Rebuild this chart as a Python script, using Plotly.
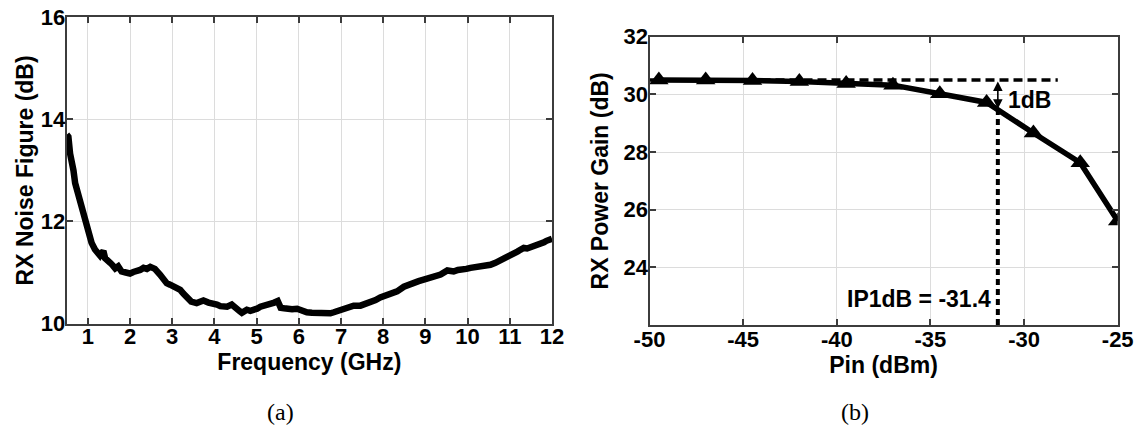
import plotly.graph_objects as go

# ---- (a) receiver noise figure vs frequency ----
freq_ghz = [
    0.50, 0.54, 0.58, 0.62, 0.66, 0.70, 0.74, 0.78, 0.82, 0.86,
    0.93, 1.01, 1.09, 1.17, 1.23, 1.29, 1.33, 1.37, 1.41, 1.47,
    1.53, 1.59, 1.65, 1.72, 1.80, 1.90, 2.00, 2.08, 2.16, 2.24,
    2.32, 2.40, 2.48, 2.59, 2.71, 2.80, 2.87, 2.95, 3.03, 3.11,
    3.19, 3.27, 3.35, 3.45, 3.58, 3.66, 3.74, 3.86, 3.98, 4.06,
    4.14, 4.22, 4.30, 4.41, 4.53, 4.60, 4.65, 4.71, 4.77, 4.85,
    4.93, 5.01, 5.09, 5.20, 5.32, 5.42, 5.50, 5.53, 5.57, 5.65,
    5.72, 5.84, 5.96, 6.08, 6.19, 6.31, 6.43, 6.55, 6.67, 6.75,
    6.83, 6.91, 7.06, 7.18, 7.30, 7.46, 7.58, 7.70, 7.82, 7.93,
    8.09, 8.25, 8.33, 8.49, 8.60, 8.72, 8.84, 8.96, 9.08, 9.20,
    9.36, 9.52, 9.67, 9.77, 9.87, 9.97, 10.07, 10.19, 10.31, 10.42,
    10.54, 10.66, 10.78, 10.90, 11.02, 11.10, 11.18, 11.26, 11.33, 11.41,
    11.49, 11.57, 11.65, 11.73, 11.81, 11.87, 11.93, 12.00,
]
noise_figure_db = [
    13.70, 13.66, 13.33, 13.20, 13.00, 12.75, 12.62, 12.52, 12.35, 12.23,
    11.97, 11.77, 11.58, 11.45, 11.40, 11.33, 11.38, 11.42, 11.28, 11.25,
    11.19, 11.14, 11.08, 11.12, 11.02, 11.00, 10.98, 11.01, 11.02, 11.05,
    11.09, 11.07, 11.11, 11.07, 10.96, 10.86, 10.79, 10.76, 10.73, 10.70,
    10.66, 10.58, 10.50, 10.43, 10.40, 10.43, 10.45, 10.41, 10.40, 10.37,
    10.34, 10.33, 10.33, 10.37, 10.31, 10.24, 10.21, 10.25, 10.27, 10.25,
    10.26, 10.29, 10.33, 10.35, 10.39, 10.41, 10.44, 10.36, 10.31, 10.30,
    10.29, 10.28, 10.29, 10.25, 10.22, 10.21, 10.20, 10.21, 10.19, 10.20,
    10.22, 10.24, 10.27, 10.30, 10.35, 10.35, 10.38, 10.41, 10.46, 10.51,
    10.56, 10.60, 10.63, 10.72, 10.76, 10.81, 10.83, 10.86, 10.89, 10.92,
    10.96, 11.04, 11.02, 11.05, 11.05, 11.07, 11.09, 11.10, 11.11, 11.13,
    11.15, 11.19, 11.24, 11.28, 11.31, 11.36, 11.41, 11.45, 11.48, 11.47,
    11.49, 11.53, 11.54, 11.56, 11.59, 11.62, 11.64, 11.66,
]
freq_ticks = list(range(1, 13))
nf_ticks = [10, 12, 14, 16]

# ---- (b) receiver power gain vs input power ----
pin_dbm = [-49.5, -47, -44.5, -42, -39.5, -37, -34.5, -32, -29.5, -27, -25]
gain_db = [30.50, 30.50, 30.48, 30.45, 30.38, 30.32, 30.02, 29.72, 28.66, 27.63, 25.61]
pin_ticks = [-50, -45, -40, -35, -30, -25]
pin_tick_text = ["-50", "-45", "-40", "-35", "-30", "-25"]
gain_ticks = [24, 26, 28, 30, 32]

small_signal_gain = 30.5
ref_line_pin = [-50, -28.2]
IP1DB = -31.4
compressed_gain = small_signal_gain - 1.0

FONT = "Liberation Sans, Arial, Helvetica, sans-serif"
AXIS_COLOR = "#3c3c3c"
GRID_COLOR = "#dcdcdc"

fig = go.Figure()

fig.add_trace(go.Scatter(
    x=freq_ghz, y=noise_figure_db, mode="lines",
    line=dict(color="black", width=6.5),
    xaxis="x", yaxis="y", hoverinfo="skip",
))

# 1 dB compression reference lines
fig.add_trace(go.Scatter(
    x=ref_line_pin, y=[small_signal_gain, small_signal_gain], mode="lines",
    line=dict(color="black", width=3.5, dash="9px,5px"),
    xaxis="x2", yaxis="y2", hoverinfo="skip",
))
fig.add_trace(go.Scatter(
    x=[IP1DB, IP1DB], y=[22, compressed_gain], mode="lines",
    line=dict(color="black", width=4, dash="6px,4px"),
    xaxis="x2", yaxis="y2", hoverinfo="skip",
))

fig.add_trace(go.Scatter(
    x=pin_dbm, y=gain_db, mode="lines+markers",
    line=dict(color="black", width=5.5),
    marker=dict(symbol="triangle-up", size=17, color="black"),
    xaxis="x2", yaxis="y2", hoverinfo="skip",
))

tick_font = dict(family=FONT, size=22, color="black", weight="bold")
title_font = dict(family=FONT, size=23, color="black", weight="bold")
note_font = dict(family=FONT, size=23, color="black", weight="bold")

common_axis = dict(
    showline=True, linecolor=AXIS_COLOR, linewidth=2, mirror="ticks",
    ticks="inside", ticklen=6, tickwidth=2, tickcolor=AXIS_COLOR,
    showgrid=True, gridcolor=GRID_COLOR, gridwidth=1,
    zeroline=False, tickfont=tick_font,
    automargin=False,
)

W, H = 1138, 430

fig.update_layout(
    width=W, height=H,
    margin=dict(l=0, r=0, t=0, b=0),
    paper_bgcolor="white", plot_bgcolor="white",
    showlegend=False,
    xaxis=dict(
        **common_axis, domain=[66.7 / W, 552 / W], range=[0.5, 12],
        tickmode="array", tickvals=freq_ticks, ticklabelstandoff=-8,
        title=dict(text="Frequency (GHz)", font=title_font, standoff=0),
        anchor="y",
    ),
    yaxis=dict(
        **common_axis, domain=[1 - 323.5 / H, 1 - 17.3 / H], range=[10, 16],
        tickmode="array", tickvals=nf_ticks, ticklabelstandoff=-5,
        title=dict(text="RX Noise Figure (dB)", font=title_font, standoff=1),
        anchor="x",
    ),
    xaxis2=dict(
        **common_axis, domain=[649.5 / W, 1117.7 / W], range=[-50, -25],
        tickmode="array", tickvals=pin_ticks, ticktext=pin_tick_text,
        ticklabelstandoff=-6,
        title=dict(text="Pin (dBm)", font=title_font, standoff=0),
        anchor="y2",
    ),
    yaxis2=dict(
        **common_axis, domain=[1 - 325 / H, 1 - 36.7 / H], range=[22, 32],
        tickmode="array", tickvals=gain_ticks, ticklabelstandoff=-5,
        title=dict(text="RX Power Gain (dB)", font=title_font, standoff=9),
        anchor="x2",
    ),
)

annotations = [
    # double-headed 1 dB arrow
    dict(x=IP1DB, y=compressed_gain, ax=IP1DB, ay=small_signal_gain,
         xref="x2", yref="y2", axref="x2", ayref="y2",
         showarrow=True, arrowhead=2, arrowside="end+start",
         arrowsize=1.2, arrowwidth=1.6, arrowcolor="black", text=""),
    dict(x=IP1DB, y=29.82, xref="x2", yref="y2", xanchor="left", yanchor="middle",
         xshift=8, text="1dB", showarrow=False, font=note_font),
    dict(x=IP1DB, y=22.91, xref="x2", yref="y2", xanchor="right", yanchor="middle",
         xshift=-5, text=f"IP1dB = {IP1DB}", showarrow=False, font=note_font),
    # sub-figure captions
    dict(x=280 / W, y=1 - 412 / H, xref="paper", yref="paper",
         xanchor="center", yanchor="middle", text="(a)", showarrow=False,
         font=dict(family="Liberation Serif, DejaVu Serif, serif", size=24, color="black")),
    dict(x=855 / W, y=1 - 412 / H, xref="paper", yref="paper",
         xanchor="center", yanchor="middle", text="(b)", showarrow=False,
         font=dict(family="Liberation Serif, DejaVu Serif, serif", size=24, color="black")),
]
fig.update_layout(annotations=annotations)

fig.write_html("out.html")
